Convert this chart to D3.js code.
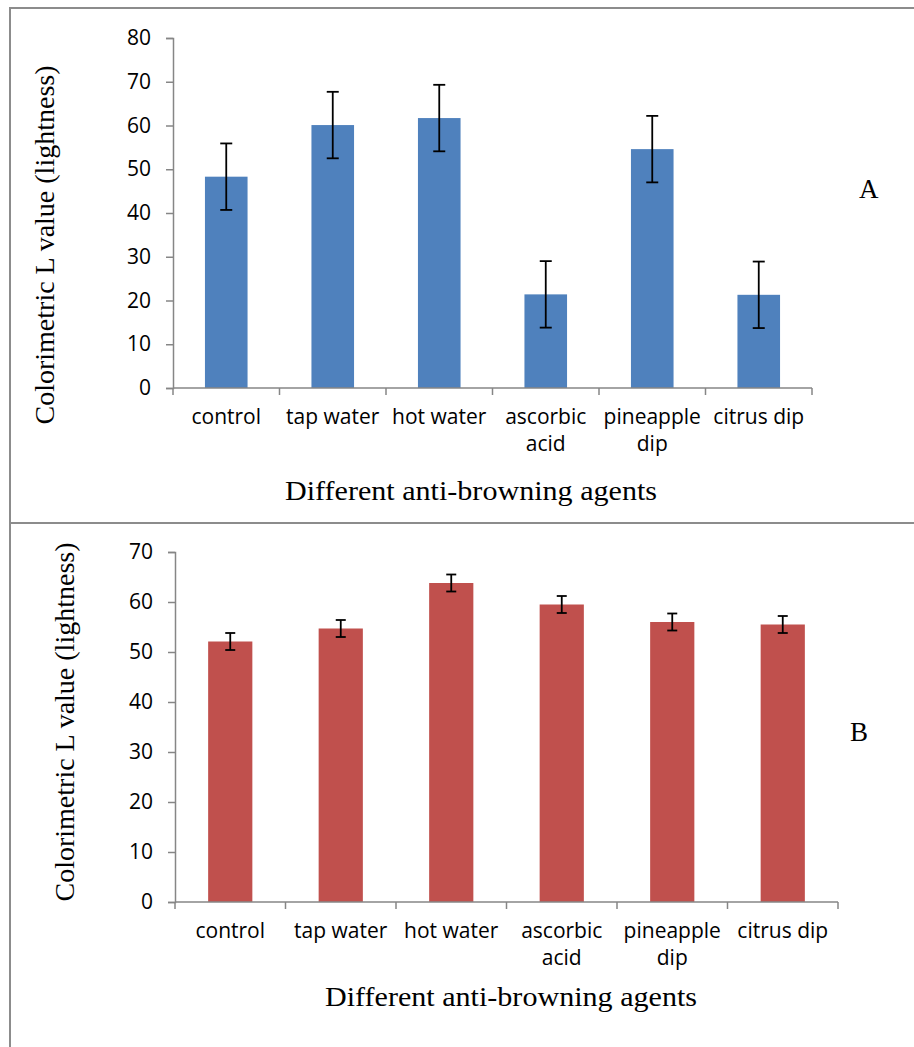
<!DOCTYPE html>
<html>
<head>
<meta charset="utf-8">
<style>
  body { margin: 0; background: #fff; }
  .tick-label { font-family: "Open Sans", sans-serif; font-size: 21px; fill: #000; }
  .title { font-family: "Liberation Serif", "Times New Roman", serif; font-size: 28px; fill: #000; }
</style>
</head>
<body>
<svg width="914" height="1047"></svg>
<script src="https://d3js.org/d3.v7.min.js"></script>
<script>
// categories and values
var categories = ["control", "tap water", "hot water", "ascorbic acid", "pineapple dip", "citrus dip"];
var catLines = [["control"], ["tap water"], ["hot water"], ["ascorbic", "acid"], ["pineapple", "dip"], ["citrus dip"]];

var valuesA = [48.3, 60.1, 61.7, 21.4, 54.6, 21.3];
var errorsA = [7.6, 7.6, 7.6, 7.6, 7.6, 7.6];
var ticksA = [0, 10, 20, 30, 40, 50, 60, 70, 80];

var valuesB = [52.1, 54.7, 63.8, 59.5, 56.0, 55.5];
var errorsB = [1.7, 1.7, 1.7, 1.7, 1.7, 1.7];
var ticksB = [0, 10, 20, 30, 40, 50, 60, 70];

var yTitle = "Colorimetric L value (lightness)";
var xTitle = "Different anti-browning agents";

var svg = d3.select("svg");

// panel frames
svg.append("path")
    .attr("d", "M10,1047 V8 H914 M10,523 H914")
    .attr("fill", "none")
    .attr("stroke", "#8c8c8c")
    .attr("stroke-width", 2);

function drawPanel(cfg) {
    var g = svg.append("g");

    var x = d3.scaleBand()
        .domain(categories)
        .range([cfg.left, cfg.right])
        .paddingInner(0.6)
        .paddingOuter(0.3);

    var y = d3.scaleLinear()
        .domain([0, cfg.max])
        .range([cfg.bottom, cfg.top]);

    var step = x.step();

    // y axis
    var yAxis = g.append("g")
        .attr("transform", "translate(" + cfg.left + ",0)")
        .call(d3.axisLeft(y).tickValues(cfg.ticks).tickSize(7).tickPadding(15));
    yAxis.select(".domain").attr("stroke", "#868686").attr("stroke-width", 1.5);
    yAxis.selectAll(".tick line").attr("stroke", "#868686").attr("stroke-width", 1.5);
    yAxis.attr("font-family", null).attr("font-size", null);
    yAxis.selectAll(".tick text").attr("class", "tick-label");

    // bars
    g.selectAll(".bar")
        .data(cfg.values)
        .enter().append("rect")
        .attr("x", function (d, i) { return x(categories[i]); })
        .attr("y", function (d) { return y(d); })
        .attr("width", x.bandwidth())
        .attr("height", function (d) { return y(0) - y(d); })
        .attr("fill", cfg.color);

    // x axis with ticks on category boundaries
    var bounds = d3.range(categories.length + 1).map(function (i) { return cfg.left + i * step; });
    g.append("line")
        .attr("x1", cfg.left).attr("x2", cfg.right)
        .attr("y1", y(0)).attr("y2", y(0))
        .attr("stroke", "#868686").attr("stroke-width", 1.5);
    g.selectAll(".xt")
        .data(bounds)
        .enter().append("line")
        .attr("x1", function (d) { return d; }).attr("x2", function (d) { return d; })
        .attr("y1", y(0)).attr("y2", y(0) + 7)
        .attr("stroke", "#868686").attr("stroke-width", 1.5);

    var labels = g.selectAll(".xl")
        .data(catLines)
        .enter().append("text")
        .attr("class", "tick-label")
        .attr("text-anchor", "middle")
        .attr("y", y(0) + 36);
    labels.selectAll("tspan")
        .data(function (d, i) { return d.map(function (t) { return { t: t, i: i }; }); })
        .enter().append("tspan")
        .attr("x", function (d) { return x(categories[d.i]) + x.bandwidth() / 2; })
        .attr("dy", function (d, j) { return j === 0 ? 0 : 27; })
        .text(function (d) { return d.t; });

    // error bars
    var eb = g.selectAll(".err")
        .data(cfg.values)
        .enter().append("g")
        .attr("stroke", "#000")
        .attr("stroke-width", 1.8);
    eb.append("line")
        .attr("x1", function (d, i) { return x(categories[i]) + x.bandwidth() / 2; })
        .attr("x2", function (d, i) { return x(categories[i]) + x.bandwidth() / 2; })
        .attr("y1", function (d, i) { return y(d + cfg.errors[i]); })
        .attr("y2", function (d, i) { return y(d - cfg.errors[i]); });
    [1, -1].forEach(function (s) {
        eb.append("line")
            .attr("x1", function (d, i) { return x(categories[i]) + x.bandwidth() / 2 - cfg.cap; })
            .attr("x2", function (d, i) { return x(categories[i]) + x.bandwidth() / 2 + cfg.cap; })
            .attr("y1", function (d, i) { return y(d + s * cfg.errors[i]); })
            .attr("y2", function (d, i) { return y(d + s * cfg.errors[i]); });
    });

    // titles
    g.append("text")
        .attr("class", "title")
        .attr("text-anchor", "middle")
        .attr("transform", "translate(" + cfg.yTitleX + "," + cfg.yTitleY + ") rotate(-90)")
        .text(yTitle);
    g.append("text")
        .attr("class", "title")
        .attr("text-anchor", "middle")
        .attr("x", cfg.xTitleX)
        .attr("y", cfg.xTitleY)
        .attr("textLength", 372)
        .attr("lengthAdjust", "spacingAndGlyphs")
        .text(xTitle);
    g.append("text")
        .attr("class", "title")
        .style("font-size", "27px")
        .attr("x", cfg.tagX)
        .attr("y", cfg.tagY)
        .text(cfg.tag);
}

drawPanel({
    values: valuesA, errors: errorsA, ticks: ticksA, max: 80,
    left: 173, right: 812, top: 38, bottom: 388,
    color: "#4f81bd", cap: 6,
    yTitleX: 54, yTitleY: 245, xTitleX: 471, xTitleY: 500,
    tag: "A", tagX: 859, tagY: 198
});

drawPanel({
    values: valuesB, errors: errorsB, ticks: ticksB, max: 70,
    left: 175, right: 838, top: 552, bottom: 902,
    color: "#c0504d", cap: 5,
    yTitleX: 74, yTitleY: 722, xTitleX: 511, xTitleY: 1006,
    tag: "B", tagX: 850, tagY: 741
});
</script>
</body>
</html>
